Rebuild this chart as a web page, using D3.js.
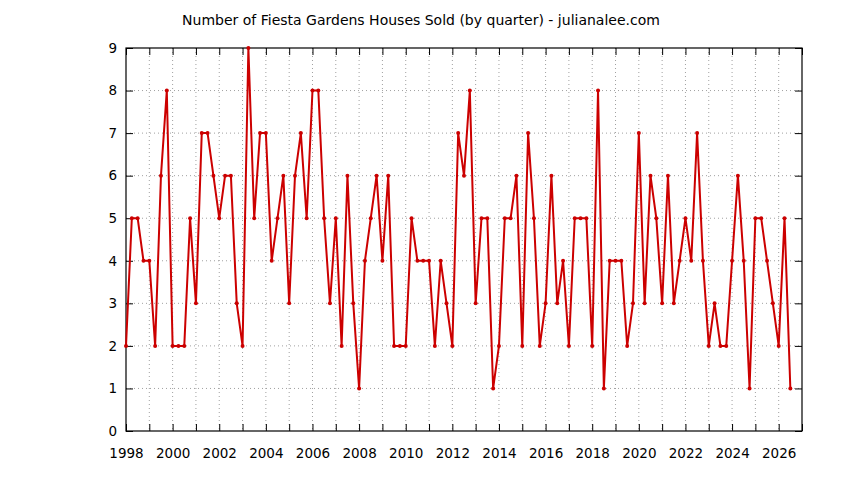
<!DOCTYPE html>
<html>
<head>
<meta charset="utf-8">
<script src="https://cdn.jsdelivr.net/npm/d3@7"></script>
<style>
    body { margin: 0; background: #fff; }
    svg text { font-family: "DejaVu Sans", sans-serif; fill: #000; }
</style>
</head>
<body>
<svg id="chart"></svg>
<script>
// quarterly sales, first quarter of 1998 onwards
const startYear = 1998
const sold = [
    2, 5, 5, 4, 4, 2, 6, 8, 2, 2, 2, 5, 3, 7, 7, 6, 5, 6, 6, 3,
    2, 9, 5, 7, 7, 4, 5, 6, 3, 6, 7, 5, 8, 8, 5, 3, 5, 2, 6, 3,
    1, 4, 5, 6, 4, 6, 2, 2, 2, 5, 4, 4, 4, 2, 4, 3, 2, 7, 6, 8,
    3, 5, 5, 1, 2, 5, 5, 6, 2, 7, 5, 2, 3, 6, 3, 4, 2, 5, 5, 5,
    2, 8, 1, 4, 4, 4, 2, 3, 7, 3, 6, 5, 3, 6, 3, 4, 5, 4, 7, 4,
    2, 3, 2, 2, 4, 6, 4, 1, 5, 5, 4, 3, 2, 5, 1
]
const xTickLabels = d3.range(1998, 2027, 2)
const yTickValues = d3.range(0, 10)
const title = 'Number of Fiesta Gardens Houses Sold (by quarter) - julianalee.com'

const W = 844, H = 480
const margin = { left: 126, right: 42, top: 48, bottom: 49 }
const width = W - margin.left - margin.right
const height = H - margin.top - margin.bottom

const data = sold.map((v, i) => ({ t: startYear + i / 4, v }))

const x = d3.scaleLinear().domain([1998, 2027]).range([0, width])
const y = d3.scaleLinear().domain([0, 9]).range([height, 0])

const svg = d3.select('#chart').attr('width', W).attr('height', H)

svg.append('text')
    .attr('x', 421).attr('y', 25)
    .attr('text-anchor', 'middle')
    .style('font-size', '14px')
    .text(title)

const g = svg.append('g')
    .attr('transform', `translate(${margin.left},${margin.top})`)

// grid - dotted, every year and every unit
const years = d3.range(1999, 2027)
g.append('g').selectAll('line').data(years).enter().append('line')
    .attr('x1', d => x(d)).attr('x2', d => x(d))
    .attr('y1', 0).attr('y2', height)
    .attr('stroke', '#a0a0a0').attr('stroke-width', 1)
    .attr('stroke-dasharray', '1,3')
g.append('g').selectAll('line').data(yTickValues.slice(1, -1)).enter().append('line')
    .attr('x1', 0).attr('x2', width)
    .attr('y1', d => y(d)).attr('y2', d => y(d))
    .attr('stroke', '#a0a0a0').attr('stroke-width', 1)
    .attr('stroke-dasharray', '1,3')

// axes, gnuplot style ticks pointing inwards on all four sides
const fmt = d => xTickLabels.includes(d) ? d : ''
const tickYears = d3.range(1998, 2028)
const styleAxis = sel => {
    sel.select('.domain').remove()
    sel.selectAll('line').attr('stroke', '#000')
    sel.selectAll('text').style('font-size', '13.5px')
}
g.append('g')
    .attr('transform', `translate(0,${height})`)
    .call(d3.axisBottom(x).tickValues(tickYears).tickFormat(fmt).tickSizeInner(-7).tickPadding(17))
    .call(styleAxis)
g.append('g')
    .call(d3.axisTop(x).tickValues(tickYears).tickFormat('').tickSizeInner(-7))
    .call(styleAxis)
g.append('g')
    .call(d3.axisLeft(y).tickValues(yTickValues).tickFormat(d3.format('d')).tickSizeInner(-7).tickPadding(9))
    .call(styleAxis)
g.append('g')
    .attr('transform', `translate(${width},0)`)
    .call(d3.axisRight(y).tickValues(yTickValues).tickFormat('').tickSizeInner(-7))
    .call(styleAxis)

g.append('rect')
    .attr('width', width).attr('height', height)
    .attr('fill', 'none').attr('stroke', '#000').attr('stroke-width', 1.2)

// series
g.append('path')
    .datum(data)
    .attr('fill', 'none')
    .attr('stroke', '#cc0000')
    .attr('stroke-width', 2)
    .attr('stroke-linejoin', 'round')
    .attr('d', d3.line().x(d => x(d.t)).y(d => y(d.v)))

g.append('g').selectAll('circle').data(data).enter().append('circle')
    .attr('cx', d => x(d.t)).attr('cy', d => y(d.v))
    .attr('r', 2)
    .attr('fill', '#cc0000')
</script>
</body>
</html>
